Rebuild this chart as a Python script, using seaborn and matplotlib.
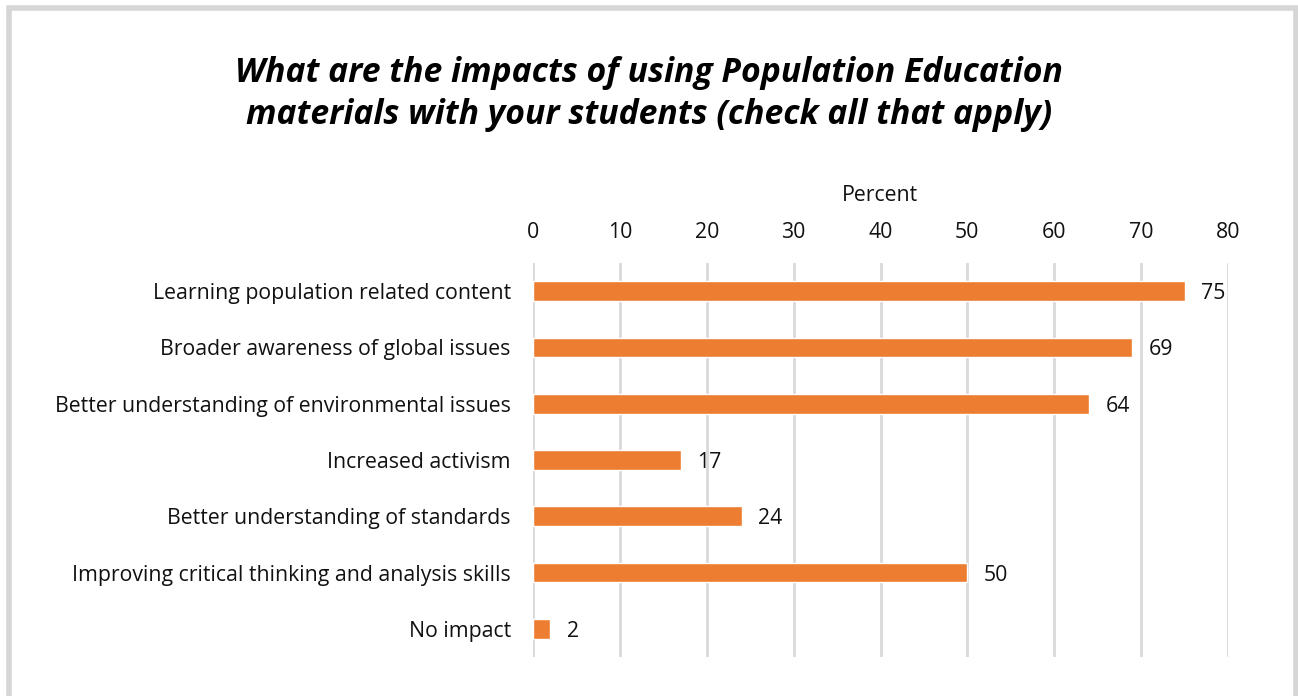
import matplotlib
matplotlib.use("Agg")
import matplotlib.pyplot as plt
import seaborn as sns
import pandas as pd
from matplotlib.patches import Rectangle

categories = [
    "Learning population related content",
    "Broader awareness of global issues",
    "Better understanding of environmental issues",
    "Increased activism",
    "Better understanding of standards",
    "Improving critical thinking and analysis skills",
    "No impact",
]
values = [75, 69, 64, 17, 24, 50, 2]
ticks = [0, 10, 20, 30, 40, 50, 60, 70, 80]
title = "What are the impacts of using Population Education\nmaterials with your students (check all that apply)"

df = pd.DataFrame({"category": categories, "value": values})

sns.set_theme(style="white")
plt.rcParams["font.family"] = ["Open Sans", "DejaVu Sans"]

fig = plt.figure(figsize=(12.98, 6.96), dpi=100)
ax = fig.add_axes([533/1298, 1-657/696, (1228-533)/1298, (657-263)/696])

sns.barplot(data=df, y="category", x="value", color="#ED7D31", width=0.35,
            orient="h", ax=ax, saturation=1)

fs = 15.3
ax.set_xlim(0, 80)
ax.set_xticks(ticks)
ax.xaxis.tick_top()
ax.xaxis.set_label_position("top")
ax.set_xlabel("Percent", fontsize=fs, color="#111111", labelpad=15)
ax.set_ylabel("")
ax.tick_params(axis="x", labelsize=fs, colors="#111111", length=0, pad=14.5)
ax.tick_params(axis="y", labelsize=fs, colors="#111111", length=0, pad=16)
ax.grid(axis="x", color="#D9D9D9", linewidth=2)
ax.set_axisbelow(True)
for s in ax.spines.values():
    s.set_visible(False)

for p, v in zip(ax.patches, values):
    ax.annotate(f"{v}", (p.get_width(), p.get_y() + p.get_height()/2),
                xytext=(12, 0), textcoords="offset points",
                va="center_baseline", ha="left", fontsize=fs, color="#111111")

fig.text(0.5, 1-94/696, title, ha="center", va="center", fontsize=24.3,
         fontweight="bold", fontstyle="italic", color="#000000", linespacing=1.3)

fig.patches.append(Rectangle((8.5/1298, -0.05), (1295.5-8.5)/1298, 1.05 - 8.5/696,
                             transform=fig.transFigure, fill=False,
                             edgecolor="#D6D6D6", linewidth=4))

fig.savefig("out.png", dpi=100, facecolor="white")
